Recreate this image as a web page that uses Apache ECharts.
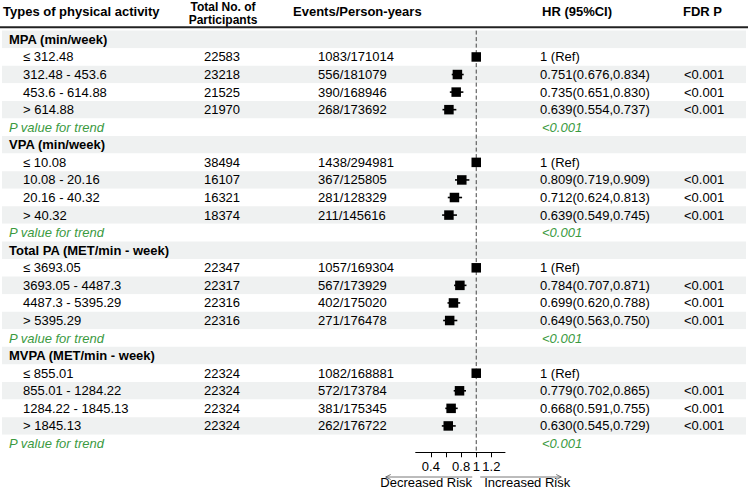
<!DOCTYPE html>
<html><head><meta charset="utf-8">
<script src="https://cdn.jsdelivr.net/npm/echarts@6/dist/echarts.min.js"></script>
<style>html,body{margin:0;padding:0;background:#fff}#c{width:748px;height:489px}</style>
</head><body><div id="c"></div>
<script>
// ---------- data ----------
const headerLabels = ['Types of physical activity', 'Total No. of', 'Participants', 'Events/Person-years', 'HR (95%CI)', 'FDR P'];
const rowLabels = [
  'MPA (min/week)', '≤ 312.48', '312.48 - 453.6', '453.6 - 614.88', '> 614.88', 'P value for trend',
  'VPA (min/week)', '≤ 10.08', '10.08 - 20.16', '20.16 - 40.32', '> 40.32', 'P value for trend',
  'Total PA (MET/min - week)', '≤ 3693.05', '3693.05 - 4487.3', '4487.3 - 5395.29', '> 5395.29', 'P value for trend',
  'MVPA (MET/min - week)', '≤ 855.01', '855.01 - 1284.22', '1284.22 - 1845.13', '> 1845.13', 'P value for trend'
];
const rowKinds = [
  'group','level','level','level','level','trend',
  'group','level','level','level','level','trend',
  'group','level','level','level','level','trend',
  'group','level','level','level','level','trend'
];
const participants = [
  '', '22583', '23218', '21525', '21970', '',
  '', '38494', '16107', '16321', '18374', '',
  '', '22347', '22317', '22316', '22316', '',
  '', '22324', '22324', '22324', '22324', ''
];
const events = [
  '', '1083/171014', '556/181079', '390/168946', '268/173692', '',
  '', '1438/294981', '367/125805', '281/128329', '211/145616', '',
  '', '1057/169304', '567/173929', '402/175020', '271/176478', '',
  '', '1082/168881', '572/173784', '381/175345', '262/176722', ''
];
const hrValues = [
  null, 1, 0.751, 0.735, 0.639, null,
  null, 1, 0.809, 0.712, 0.639, null,
  null, 1, 0.784, 0.699, 0.649, null,
  null, 1, 0.779, 0.668, 0.630, null
];
const ciLower = [
  null, 1, 0.676, 0.651, 0.554, null,
  null, 1, 0.719, 0.624, 0.549, null,
  null, 1, 0.707, 0.620, 0.563, null,
  null, 1, 0.702, 0.591, 0.545, null
];
const ciUpper = [
  null, 1, 0.834, 0.830, 0.737, null,
  null, 1, 0.909, 0.813, 0.745, null,
  null, 1, 0.871, 0.788, 0.750, null,
  null, 1, 0.865, 0.755, 0.729, null
];
const trendP = [
  '', '', '', '', '', '<0.001',
  '', '', '', '', '', '<0.001',
  '', '', '', '', '', '<0.001',
  '', '', '', '', '', '<0.001'
];
const fdrP = [
  '', '', '<0.001', '<0.001', '<0.001', '',
  '', '', '<0.001', '<0.001', '<0.001', '',
  '', '', '<0.001', '<0.001', '<0.001', '',
  '', '', '<0.001', '<0.001', '<0.001', ''
];
const xTickValues = [0.4, 0.6, 0.8, 1, 1.2];
const xLabelValues = [0.4, 0.8, 1, 1.2];
const refValue = 1;
const riskLabels = ['Decreased Risk', 'Increased Risk'];

// ---------- build ----------
const FAM = '"Liberation Sans", Arial, sans-serif';
const FONT = '13px ' + FAM;
const BOLD = 'bold 13px ' + FAM;
const BOLD12 = 'bold 12px ' + FAM;
const ITAL = 'italic 13px ' + FAM;
const GREEN = '#3b9a3f';
const ROWTOP = 30.6, ROWH = 17.57, NROW = rowLabels.length;

function hrText(i) {
  if (hrValues[i] == null) return trendP[i];
  if (hrValues[i] === 1 && ciLower[i] === 1 && ciUpper[i] === 1) return '1 (Ref)';
  return hrValues[i].toFixed(3) + '(' + ciLower[i].toFixed(3) + ',' + ciUpper[i].toFixed(3) + ')';
}

const rowIdx = rowLabels.map((_, i) => String(i));
const textData = rowLabels.map((_, i) => [0, i]);
const forestData = [];
rowLabels.forEach((_, i) => { if (hrValues[i] != null) forestData.push([hrValues[i], ciLower[i], ciUpper[i], i]); });

function txt(x, y, s, font, fill, align) {
  return { type: 'text', x: x, y: y, style: { text: s, font: font, fill: fill || '#000',
    align: align || 'left', verticalAlign: 'middle', textAlign: align || 'left', textVerticalAlign: 'middle' } };
}

const chart = echarts.init(document.getElementById('c'), null, { renderer: 'svg' });
const option = {
  animation: false,
  backgroundColor: '#fff',
  grid: [
    { left: 2, right: 2, top: ROWTOP, height: ROWH * NROW },
    { left: 415.7, width: 89.3, top: ROWTOP, height: ROWH * NROW }
  ],
  xAxis: [
    { gridIndex: 0, type: 'value', min: 2, max: 746, show: false },
    { gridIndex: 1, type: 'value', min: 0.2, max: 1.38,
      axisLine: { show: true, onZero: false, lineStyle: { color: '#000', width: 1 } },
      axisTick: { show: true, length: 5, customValues: xTickValues, lineStyle: { color: '#000' } },
      axisLabel: { show: true, customValues: xLabelValues, margin: 8, color: '#000', fontSize: 13,
        fontFamily: FAM, formatter: v => String(+(+v).toFixed(2)) },
      splitLine: { show: false } }
  ],
  yAxis: [
    { gridIndex: 0, type: 'category', data: rowIdx, inverse: true,
      axisLine: { show: false }, axisTick: { show: false }, axisLabel: { show: false },
      splitLine: { show: false },
      splitArea: { show: true, areaStyle: { color: ['#eff1f1', '#ffffff'] } } },
    { gridIndex: 1, type: 'category', data: rowIdx, inverse: true,
      axisLine: { show: false }, axisTick: { show: false }, axisLabel: { show: false },
      splitLine: { show: false }, splitArea: { show: false } }
  ],
  series: [
    { type: 'custom', xAxisIndex: 0, yAxisIndex: 0, data: textData, encode: { x: 0, y: 1 }, silent: true,
      renderItem: function (params, api) {
        const i = api.value(1);
        const y = api.coord([0, i])[1];
        const X = v => api.coord([v, i])[0];
        const kids = [];
        const k = rowKinds[i];
        if (k === 'group') kids.push(txt(X(9), y, rowLabels[i], BOLD));
        else if (k === 'trend') kids.push(txt(X(9), y, rowLabels[i], ITAL, GREEN));
        else kids.push(txt(X(23), y, rowLabels[i], FONT));
        if (participants[i]) kids.push(txt(X(222), y, participants[i], FONT, '#000', 'center'));
        if (events[i]) kids.push(txt(X(318), y, events[i], FONT));
        const h = hrText(i);
        if (h) kids.push(txt(X(k === 'trend' ? 542 : 540), y, h, k === 'trend' ? ITAL : FONT, k === 'trend' ? GREEN : '#000'));
        if (fdrP[i]) kids.push(txt(X(684), y, fdrP[i], FONT));
        return { type: 'group', children: kids };
      } },
    { type: 'custom', xAxisIndex: 1, yAxisIndex: 1, data: [[refValue, 0]], encode: { x: 0, y: 1 }, silent: true, z: 1,
      renderItem: function (params, api) {
        const cs = params.coordSys;
        const x = api.coord([api.value(0), 0])[0];
        return { type: 'line', shape: { x1: x, y1: cs.y, x2: x, y2: cs.y + cs.height },
          style: { stroke: '#444', lineWidth: 1, lineDash: [4, 2.5] } };
      } },
    { type: 'custom', xAxisIndex: 1, yAxisIndex: 1, data: forestData, encode: { x: [0, 1, 2], y: 3 }, silent: true, z: 3,
      renderItem: function (params, api) {
        const row = api.value(3);
        const c = api.coord([api.value(0), row]);
        const l = api.coord([api.value(1), row]);
        const r = api.coord([api.value(2), row]);
        const s = 9.5;
        return { type: 'group', children: [
          { type: 'line', shape: { x1: l[0], y1: c[1], x2: r[0], y2: c[1] }, style: { stroke: '#000', lineWidth: 1.6 } },
          { type: 'rect', shape: { x: c[0] - s / 2, y: c[1] - s / 2, width: s, height: s }, style: { fill: '#000' } }
        ] };
      } }
  ]
};
chart.setOption(option);

// header & arrows (annotations)
const refX = chart.convertToPixel({ xAxisIndex: 1 }, refValue);
const ay = 477;
const ctr = { align: 'center', verticalAlign: 'middle', textAlign: 'center', textVerticalAlign: 'middle' };
const lft = { align: 'left', verticalAlign: 'middle', textAlign: 'left', textVerticalAlign: 'middle' };
chart.setOption({
  graphic: [
    { type: 'text', x: 3, y: 11.5, style: Object.assign({ text: headerLabels[0], font: BOLD, fill: '#000' }, lft) },
    { type: 'text', x: 223, y: 6.9, style: Object.assign({ text: headerLabels[1], font: BOLD12, fill: '#000' }, ctr) },
    { type: 'text', x: 223, y: 20.4, style: Object.assign({ text: headerLabels[2], font: BOLD12, fill: '#000' }, ctr) },
    { type: 'text', x: 293, y: 11.5, style: Object.assign({ text: headerLabels[3], font: BOLD, fill: '#000' }, lft) },
    { type: 'text', x: 542, y: 11.5, style: Object.assign({ text: headerLabels[4], font: BOLD, fill: '#000' }, lft) },
    { type: 'text', x: 683, y: 11.5, style: Object.assign({ text: headerLabels[5], font: BOLD, fill: '#000' }, lft) },
    { type: 'line', shape: { x1: 0, y1: 27.2, x2: 748, y2: 27.2 }, style: { stroke: '#222', lineWidth: 2 } },
    { type: 'polyline', shape: { points: [[refX - 4, ay], [refX - 90.5, ay]] }, style: { stroke: '#555', lineWidth: 0.8, fill: null } },
    { type: 'polyline', shape: { points: [[refX - 85.5, ay - 2.5], [refX - 90.5, ay], [refX - 85.5, ay + 2.5]] }, style: { stroke: '#555', lineWidth: 0.8, fill: null } },
    { type: 'polyline', shape: { points: [[refX + 4, ay], [refX + 85, ay]] }, style: { stroke: '#555', lineWidth: 0.8, fill: null } },
    { type: 'polyline', shape: { points: [[refX + 80, ay - 2.5], [refX + 85, ay], [refX + 80, ay + 2.5]] }, style: { stroke: '#555', lineWidth: 0.8, fill: null } },
    { type: 'text', x: refX - 50, y: 482.3, style: Object.assign({ text: riskLabels[0], font: FONT, fill: '#000' }, ctr) },
    { type: 'text', x: refX + 51, y: 482.3, style: Object.assign({ text: riskLabels[1], font: FONT, fill: '#000' }, ctr) }
  ]
});
</script></body></html>
